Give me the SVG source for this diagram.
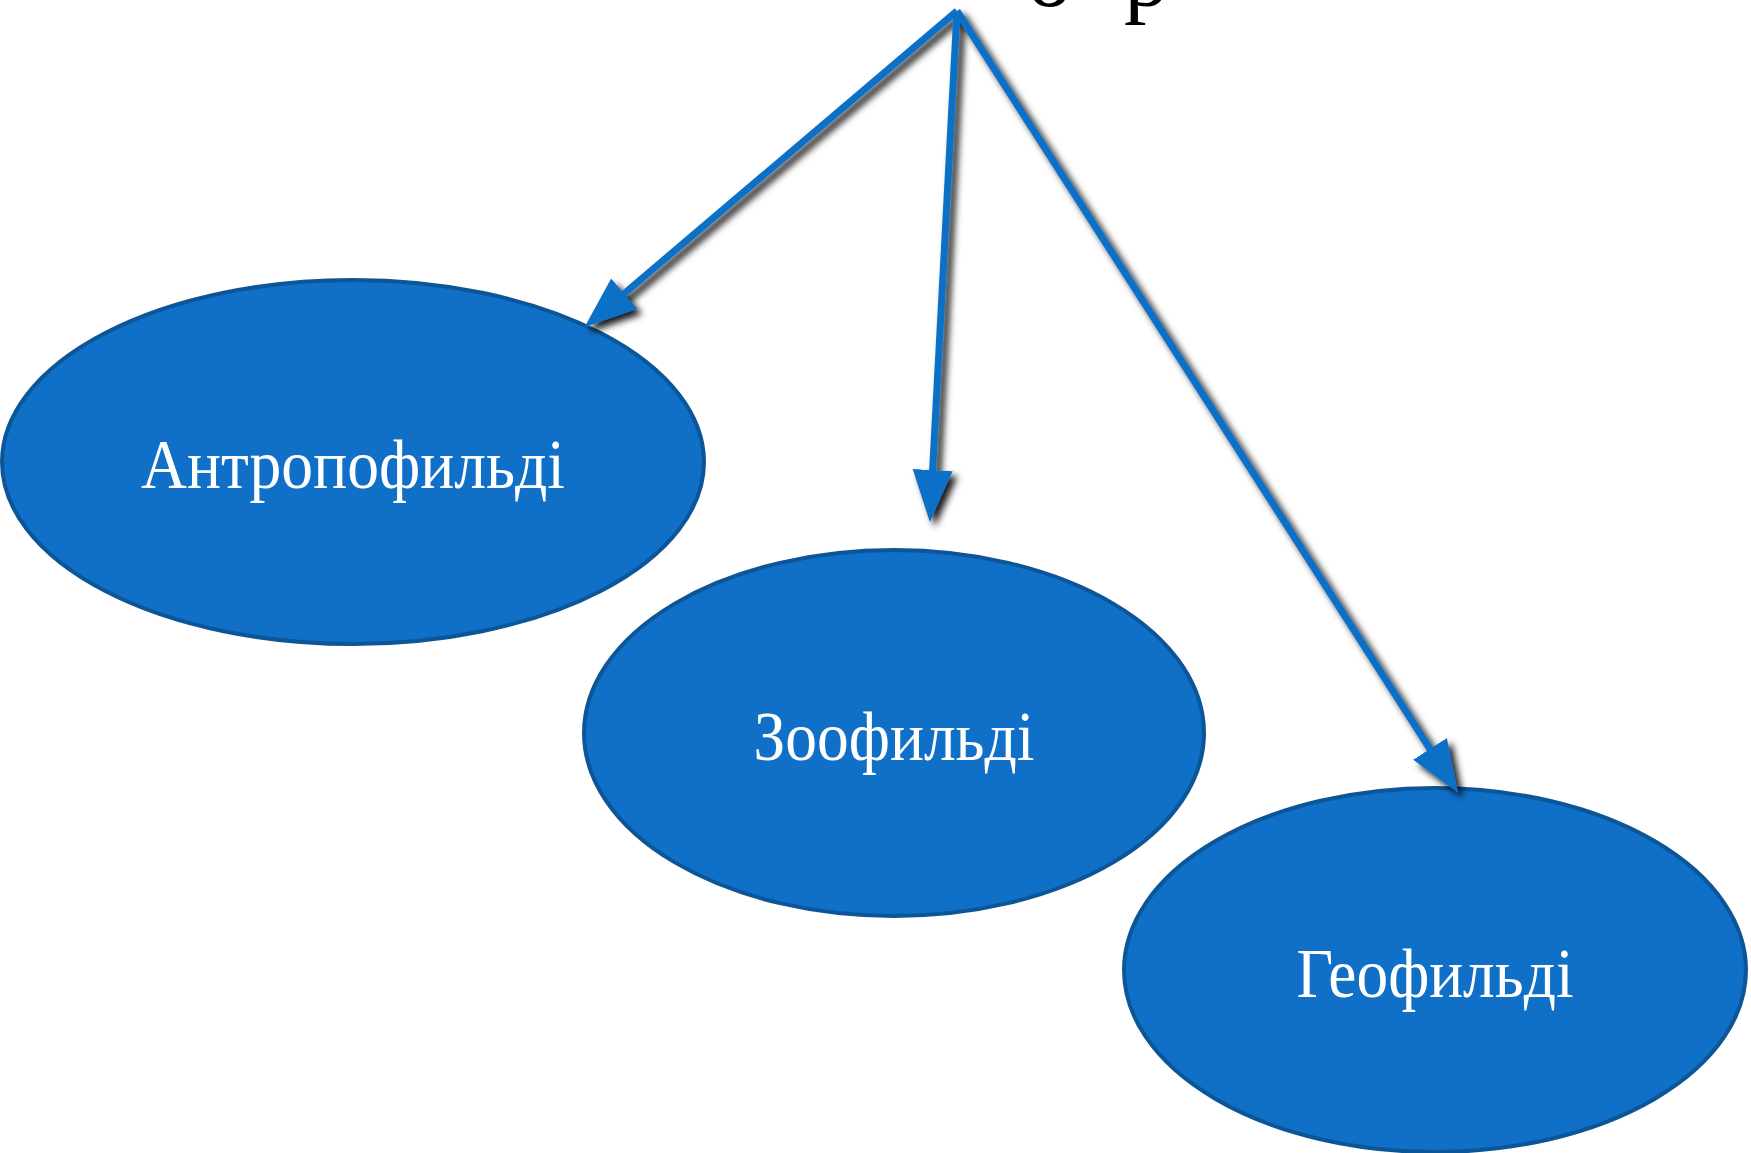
<svg xmlns="http://www.w3.org/2000/svg" width="1751" height="1153" viewBox="0 0 1751 1153">
<style>
.node{fill:#106fc7;stroke:#0c5596;stroke-width:4}
.lbl{fill:#ffffff;font-family:"Liberation Serif","Times New Roman",serif;font-size:70px;text-anchor:middle}
.conn{stroke:#106fc7;stroke-width:7;fill:none}
.top{fill:#000;font-family:"Liberation Serif","Times New Roman",serif;font-size:90px}
</style>
<defs>
<filter id="sh" x="-20%" y="-20%" width="140%" height="140%">
<feDropShadow dx="5" dy="5" stdDeviation="3.5" flood-color="#000" flood-opacity="0.9"/>
</filter>
<marker id="ah" markerUnits="userSpaceOnUse" markerWidth="54" markerHeight="44" refX="10" refY="20" orient="auto">
<path d="M0,0 L52,20 L0,40 z" fill="#106fc7"/>
</marker>
</defs>
<rect width="1751" height="1153" fill="#ffffff"/>
<text class="top" x="1027" y="6">о<tspan dx="52">р</tspan></text>
<g id="node-antropo">
<ellipse class="node" cx="353" cy="462" rx="351" ry="182"/>
<text class="lbl" x="353" y="488" textLength="424" lengthAdjust="spacingAndGlyphs">Антропофильді</text>
</g>
<g id="node-zoo">
<ellipse class="node" cx="894" cy="733" rx="310" ry="183"/>
<text class="lbl" x="894" y="760" textLength="281" lengthAdjust="spacingAndGlyphs">Зоофильді</text>
</g>
<g id="node-geo">
<ellipse class="node" cx="1435" cy="970" rx="311" ry="182"/>
<text class="lbl" x="1435" y="997" textLength="277" lengthAdjust="spacingAndGlyphs">Геофильді</text>
</g>
<g id="connectors" filter="url(#sh)">
<line class="conn" x1="957" y1="11" x2="616.5" y2="300.1" marker-end="url(#ah)"/>
<line class="conn" x1="957" y1="11" x2="932.1" y2="480.1" marker-end="url(#ah)"/>
<line class="conn" x1="957" y1="11" x2="1435.4" y2="757.3" marker-end="url(#ah)"/>
</g>
</svg>
